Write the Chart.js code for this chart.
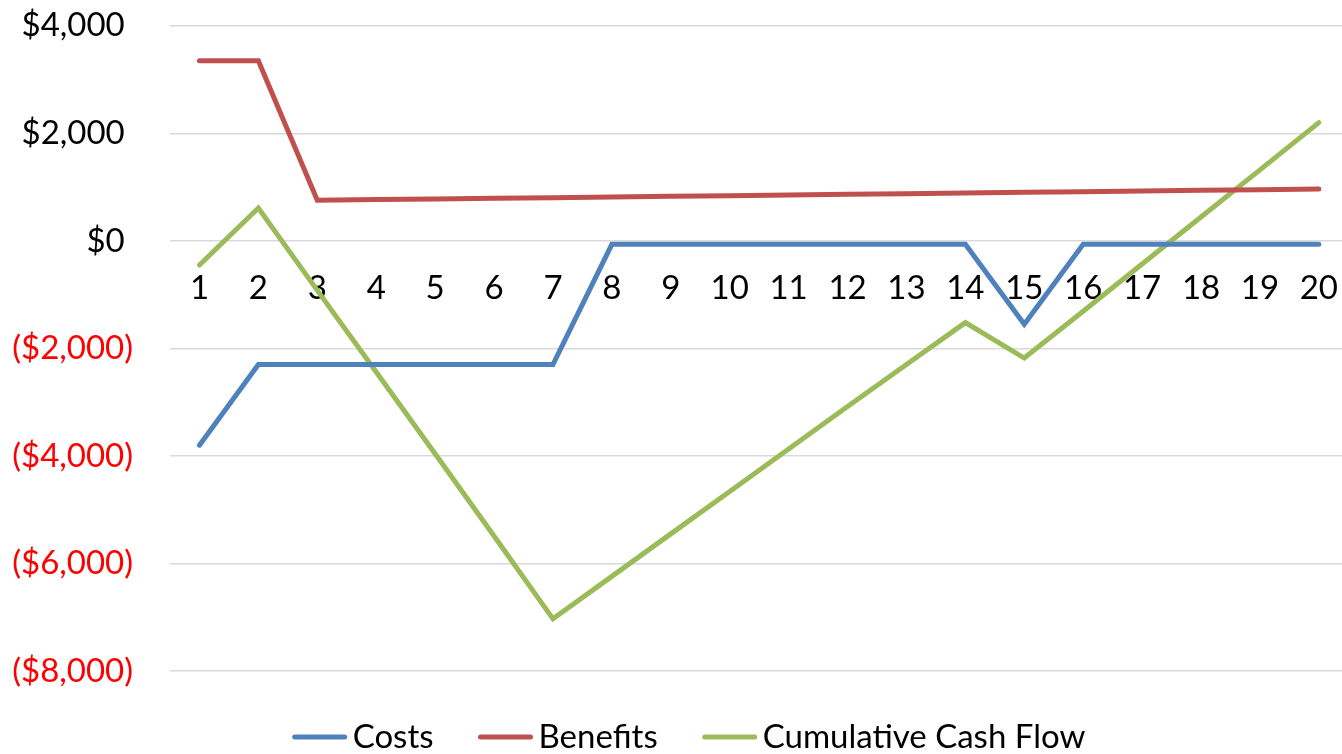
<!DOCTYPE html>
<html>
<head>
<meta charset="utf-8">
<script src="https://cdn.jsdelivr.net/npm/chart.js@4.4.0/dist/chart.umd.min.js"></script>
<style>
  html, body { margin: 0; padding: 0; background: #fff; overflow: hidden; }
  /* chart.js keeps some room above the plot for the centred x axis, so pull the canvas up */
  #wrap { width: 1358px; height: 785px; margin-top: -31px; }
</style>
</head>
<body>
<div id="wrap"><canvas id="myChart"></canvas></div>
<script>
  var years = ['1', '2', '3', '4', '5', '6', '7', '8', '9', '10',
               '11', '12', '13', '14', '15', '16', '17', '18', '19', '20'];

  var costs = [-3800, -2300, -2300, -2300, -2300, -2300, -2300, -65, -65, -65,
               -65, -65, -65, -65, -1550, -65, -65, -65, -65, -65];

  var benefits = [3350, 3350, 757, 768, 780, 791, 803, 815, 828, 840,
                  853, 865, 878, 891, 903, 915, 928, 940, 953, 966];

  var cumulative = [-450, 610, -920, -2440, -3960, -5490, -7030, -6240, -5450, -4660,
                    -3870, -3080, -2300, -1520, -2180, -1310, -430, 445, 1320, 2200];

  var yTicks = [-8000, -6000, -4000, -2000, 0, 2000, 4000];

  var fontName = 'Lato';
  var shiftUp = 31;

  // Excel style $#,##0_);($#,##0) - positives keep a little room where ")" would go
  function money(v) {
    var s = '$' + Math.abs(v).toLocaleString('en-US');
    return v < 0 ? '(' + s + ')' : s + '\u2005';
  }

  // legend drawn by hand so the line / text spacing looks like Excel
  var excelLegend = {
    id: 'excelLegend',
    afterDraw: function(chart) {
      var ctx = chart.ctx;
      var lineW = 54, gapText = 6, gapItem = 45, y = 737 + shiftUp;
      ctx.save();
      ctx.font = '33px ' + fontName;
      var total = 0;
      chart.data.datasets.forEach(function(ds, i) {
        total += lineW + gapText + ctx.measureText(ds.label).width;
        if (i > 0) total += gapItem;
      });
      var x = 689 - total / 2;
      chart.data.datasets.forEach(function(ds) {
        ctx.strokeStyle = ds.borderColor;
        ctx.lineWidth = 5;
        ctx.lineCap = 'round';
        ctx.beginPath();
        ctx.moveTo(x + 2, y);
        ctx.lineTo(x + lineW - 2, y);
        ctx.stroke();
        x += lineW + gapText;
        ctx.fillStyle = '#000';
        ctx.textBaseline = 'middle';
        ctx.textAlign = 'left';
        ctx.fillText(ds.label, x, y);
        x += ctx.measureText(ds.label).width + gapItem;
      });
      ctx.restore();
    }
  };

  function line(label, values, color) {
    return {
      label: label,
      data: values,
      borderColor: color,
      backgroundColor: color,
      borderWidth: 5,
      borderCapStyle: 'round',
      borderJoinStyle: 'miter',
      pointRadius: 0,
      tension: 0,
      fill: false
    };
  }

  var data = {
    labels: years,
    datasets: [
      line('Costs', costs, '#4F81BD'),
      line('Benefits', benefits, '#C0504D'),
      line('Cumulative Cash Flow', cumulative, '#9BBB59')
    ]
  };

  var options = {
    responsive: true,
    maintainAspectRatio: false,
    animation: false,
    layout: { padding: { top: 0, bottom: 83, left: 0, right: 0 } },
    plugins: {
      legend: { display: false },
      tooltip: { enabled: false }
    },
    scales: {
      x: {
        type: 'category',
        position: { y: 0 },
        offset: true,
        grid: { display: false },
        border: { display: false },
        ticks: {
          autoSkip: false,
          maxRotation: 0,
          padding: 20,
          color: '#000',
          font: { family: fontName, size: 33 }
        }
      },
      y: {
        min: -8000,
        max: 4000,
        afterFit: function(scale) { scale.width = 170; },
        afterBuildTicks: function(scale) {
          scale.ticks = yTicks.map(function(v) { return { value: v }; });
        },
        grid: { color: '#D9D9D9', lineWidth: 1.5, drawTicks: false },
        border: { display: false },
        ticks: {
          padding: 37,
          callback: function(v) { return money(v); },
          color: function(c) { return c.tick && c.tick.value < 0 ? '#FF0000' : '#000'; },
          font: { family: fontName, size: 33 }
        }
      }
    }
  };

  var ctx = document.getElementById('myChart').getContext('2d');
  var cashChart = new Chart(ctx, {
    type: 'line',
    data: data,
    options: options,
    plugins: [excelLegend]
  });
</script>
</body>
</html>
